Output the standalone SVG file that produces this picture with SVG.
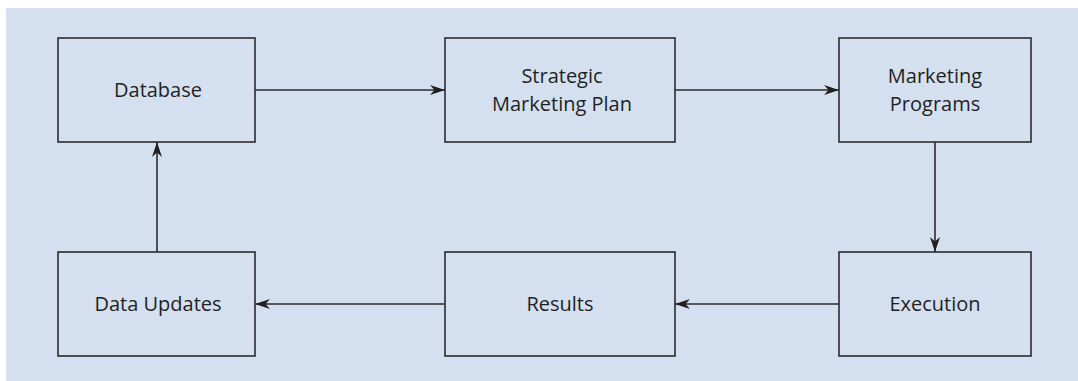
<svg xmlns="http://www.w3.org/2000/svg" width="1078" height="381" viewBox="0 0 1078 381">
<style>
.box{fill:#d4dff0;stroke:#2b2b2e;stroke-width:1.6}
.lbl{font-family:"Open Sans","Liberation Sans",sans-serif;font-size:20px;fill:#231f20;text-anchor:middle}
.con{fill:none;stroke:#2b2b2e;stroke-width:1.6}
</style>
<defs>
<marker id="ah" markerUnits="userSpaceOnUse" markerWidth="20" markerHeight="14" viewBox="-16 -7 18 14" refX="0" refY="0" orient="auto">
<path d="M0,0 L-15,-5 L-10.5,0 L-15,5 Z" fill="#231f20"/>
</marker>
</defs>
<rect x="6" y="8" width="1072" height="373" fill="#d4dff0"/>
<g id="database"><rect class="box" x="58" y="38" width="197" height="104"/><text class="lbl" x="158" y="97">Database</text></g>
<g id="strategic"><rect class="box" x="445" y="38" width="230" height="104"/><text class="lbl" x="562" y="83">Strategic</text><text class="lbl" x="562" y="111">Marketing Plan</text></g>
<g id="programs"><rect class="box" x="839" y="38" width="192" height="104"/><text class="lbl" x="935" y="83">Marketing</text><text class="lbl" x="935" y="111">Programs</text></g>
<g id="execution"><rect class="box" x="839" y="252" width="192" height="104"/><text class="lbl" x="935" y="311">Execution</text></g>
<g id="results"><rect class="box" x="445" y="252" width="230" height="104"/><text class="lbl" x="560" y="311">Results</text></g>
<g id="updates"><rect class="box" x="58" y="252" width="197" height="104"/><text class="lbl" x="158" y="311">Data Updates</text></g>
<g id="connectors">
<line class="con" x1="255" y1="90" x2="445" y2="90" marker-end="url(#ah)"/>
<line class="con" x1="675" y1="90" x2="839" y2="90" marker-end="url(#ah)"/>
<line class="con" x1="935" y1="142" x2="935" y2="252" marker-end="url(#ah)"/>
<line class="con" x1="839" y1="304" x2="675" y2="304" marker-end="url(#ah)"/>
<line class="con" x1="445" y1="304" x2="255" y2="304" marker-end="url(#ah)"/>
<line class="con" x1="157" y1="252" x2="157" y2="142" marker-end="url(#ah)"/>
</g>
</svg>
